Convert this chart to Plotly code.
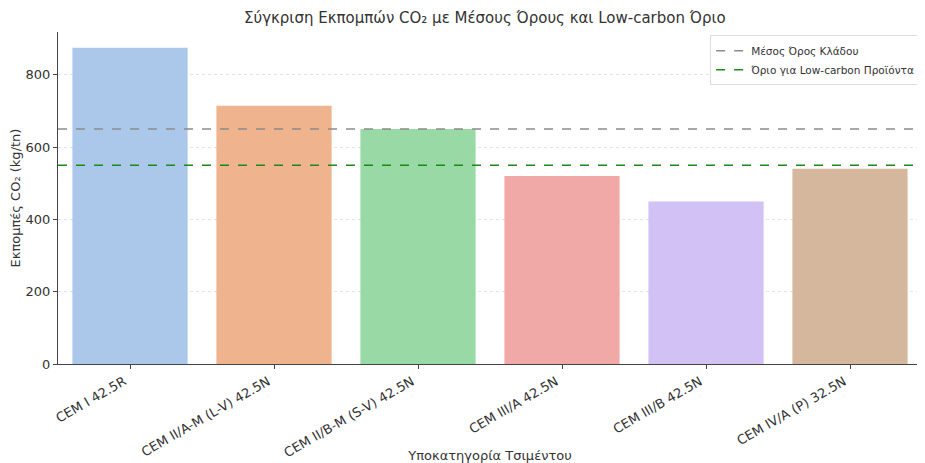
import plotly.graph_objects as go

categories = ["CEM I 42.5R", "CEM II/A-M (L-V) 42.5N", "CEM II/B-M (S-V) 42.5N",
              "CEM III/A 42.5N", "CEM III/B 42.5N", "CEM IV/A (P) 32.5N"]
emissions = [875, 715, 650, 520, 450, 540]
industry_mean = 650
low_carbon_limit = 550
bar_colors = ["#abc8eb", "#efb38d", "#98d9a6", "#f1a9a7", "#d1c1f5", "#d5b79d"]

idx = list(range(len(categories)))
FONT = "DejaVu Sans"
TXT = "#333333"

fig = go.Figure()
fig.add_trace(go.Bar(x=idx, y=emissions, marker=dict(color=bar_colors, line=dict(width=0)),
                     width=0.8, showlegend=False, hoverinfo="x+y"))
fig.add_trace(go.Scatter(x=[-0.5, len(categories) - 0.5], y=[industry_mean] * 2, mode="lines",
                         line=dict(color="#8c8c8c", dash="dash", width=1.5),
                         name="Μέσος Όρος Κλάδου"))
fig.add_trace(go.Scatter(x=[-0.5, len(categories) - 0.5], y=[low_carbon_limit] * 2, mode="lines",
                         line=dict(color="#1a8a1a", dash="dash", width=1.5),
                         name="Όριο για Low-carbon Προϊόντα"))

# the page body adds an 8px offset, so the figure is sized to fit the window
fig.update_layout(
    width=917, height=455,
    margin=dict(l=50, r=3, t=24, b=99, autoexpand=False),
    paper_bgcolor="white", plot_bgcolor="white",
    font=dict(family=FONT, size=13, color=TXT),
    title=dict(text="Σύγκριση Εκπομπών CO₂ με Μέσους Όρους και Low-carbon Όριο",
               x=0.52, xanchor="center", y=0.978, yanchor="middle",
               font=dict(size=15, color=TXT)),
    legend=dict(x=0.999, y=0.99, xanchor="right", yanchor="top",
                bgcolor="rgba(255,255,255,0.85)", bordercolor="#dddddd", borderwidth=1,
                font=dict(size=10.5, color=TXT), tracegroupgap=0, itemwidth=30),
)
fig.update_xaxes(
    range=[-0.5, len(categories) - 0.5],
    tickmode="array", tickvals=idx, ticktext=categories, tickangle=-30,
    ticklabelshift=-6,
    showline=True, linecolor="#444444", linewidth=1.2,
    ticks="outside", ticklen=4, tickcolor="#444444",
    showgrid=False, zeroline=False, automargin=False,
    tickfont=dict(size=13, color=TXT),
    title=dict(text="Υποκατηγορία Τσιμέντου", font=dict(size=13, color=TXT), standoff=4),
)
fig.update_yaxes(
    range=[0, 918.75],
    tickvals=[0, 200, 400, 600, 800],
    showline=True, linecolor="#444444", linewidth=1.2,
    ticks="outside", ticklen=4, tickcolor="#444444",
    showgrid=True, gridcolor="#e3e3e3", griddash="dot", gridwidth=1,
    zeroline=False, automargin=False,
    tickfont=dict(size=13, color=TXT),
    title=dict(text="Εκπομπές CO₂ (kg/tn)", font=dict(size=13, color=TXT), standoff=6),
)

fig.write_html("out.html")
